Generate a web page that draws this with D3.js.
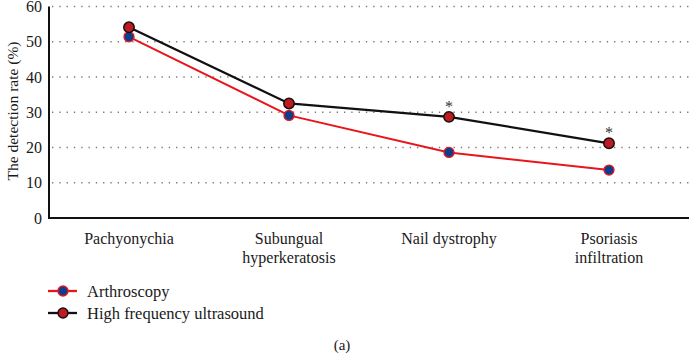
<!DOCTYPE html>
<html>
<head>
    <meta charset="utf-8">
    <title>Detection rate</title>
    <script src="https://d3js.org/d3.v7.min.js"></script>
</head>
<style>
    body { margin: 0; background: white; }
</style>
<body>
    <div id="chart"></div>
    <script>
        // data
        var categories = [["Pachyonychia"], ["Subungual", "hyperkeratosis"], ["Nail dystrophy"], ["Psoriasis", "infiltration"]];
        var arthroscopy = [51.4, 29.1, 18.6, 13.6];
        var ultrasound = [54.1, 32.5, 28.7, 21.2];
        var significant = [false, false, true, true];
        var yTicks = [0, 10, 20, 30, 40, 50, 60];
        var seriesNames = ["Arthroscopy", "High frequency ultrasound"];

        var width = 689, height = 354;

        var svg = d3.select("#chart").append("svg")
            .attr("width", width)
            .attr("height", height)
            .attr("font-family", "'Liberation Serif', 'Times New Roman', 'DejaVu Serif', serif")
            .attr("fill", "#1a1a1a");

        var x = d3.scalePoint()
            .domain(d3.range(categories.length))
            .range([49, 689])
            .padding(0.5);

        var y = d3.scaleLinear()
            .domain([0, 60])
            .range([218, 6.5]);

        // dotted grid lines
        svg.append("g").selectAll("line")
            .data(yTicks.filter(function(d) { return d > 0; }))
            .enter().append("line")
            .attr("x1", 52).attr("x2", width)
            .attr("y1", function(d) { return y(d); })
            .attr("y2", function(d) { return y(d); })
            .attr("stroke", "#777")
            .attr("stroke-width", 1.3)
            .attr("stroke-dasharray", "1.3,6");

        // y tick labels
        svg.append("g").selectAll("text")
            .data(yTicks)
            .enter().append("text")
            .attr("x", 42)
            .attr("y", function(d) { return y(d); })
            .attr("dy", "0.35em")
            .attr("text-anchor", "end")
            .attr("font-size", 16)
            .text(function(d) { return d; });

        // axes
        svg.append("line")
            .attr("x1", 49).attr("x2", 49)
            .attr("y1", y(60)).attr("y2", y(0) + 1)
            .attr("stroke", "#111").attr("stroke-width", 2);
        svg.append("line")
            .attr("x1", 48).attr("x2", width)
            .attr("y1", y(0)).attr("y2", y(0))
            .attr("stroke", "#111").attr("stroke-width", 2);

        // y axis title
        svg.append("text")
            .attr("transform", "translate(18,111) rotate(-90)")
            .attr("text-anchor", "middle")
            .attr("font-size", 15.5)
            .text("The detection rate (%)");

        // category labels
        var cat = svg.append("g").selectAll("text")
            .data(categories)
            .enter().append("text")
            .attr("text-anchor", "middle")
            .attr("font-size", 16)
            .attr("x", function(d, i) { return x(i); })
            .attr("y", 244);
        cat.selectAll("tspan")
            .data(function(d) { return d; })
            .enter().append("tspan")
            .attr("x", function() { return d3.select(this.parentNode).attr("x"); })
            .attr("dy", function(d, i) { return i === 0 ? 0 : 18.5; })
            .text(function(d) { return d; });

        var line = d3.line()
            .x(function(d, i) { return x(i); })
            .y(function(d) { return y(d); });

        // arthroscopy series
        svg.append("path")
            .datum(arthroscopy)
            .attr("d", line)
            .attr("fill", "none")
            .attr("stroke", "#e8161c")
            .attr("stroke-width", 2);
        svg.append("g").selectAll("circle")
            .data(arthroscopy)
            .enter().append("circle")
            .attr("cx", function(d, i) { return x(i); })
            .attr("cy", function(d) { return y(d); })
            .attr("r", 5)
            .attr("fill", "#0b3f8e")
            .attr("stroke", "#e8161c")
            .attr("stroke-width", 1.3);

        // ultrasound series
        svg.append("path")
            .datum(ultrasound)
            .attr("d", line)
            .attr("fill", "none")
            .attr("stroke", "#111")
            .attr("stroke-width", 2.3);
        svg.append("g").selectAll("circle")
            .data(ultrasound)
            .enter().append("circle")
            .attr("cx", function(d, i) { return x(i); })
            .attr("cy", function(d) { return y(d); })
            .attr("r", 5.2)
            .attr("fill", "#c0191f")
            .attr("stroke", "#111")
            .attr("stroke-width", 1.5);

        // significance stars
        svg.append("g").selectAll("text")
            .data(ultrasound.map(function(v, i) { return { v: v, i: i }; })
                .filter(function(d) { return significant[d.i]; }))
            .enter().append("text")
            .attr("x", function(d) { return x(d.i); })
            .attr("y", function(d) { return y(d.v) - 5; })
            .attr("text-anchor", "middle")
            .attr("font-size", 16)
            .attr("fill", "#333")
            .text("*");

        // legend
        var legend = svg.append("g").selectAll("g")
            .data(seriesNames)
            .enter().append("g")
            .attr("transform", function(d, i) { return "translate(0," + (291 + i * 22) + ")"; });
        legend.append("line")
            .attr("x1", 48).attr("x2", 77)
            .attr("stroke", function(d, i) { return i === 0 ? "#e8161c" : "#111"; })
            .attr("stroke-width", 2.3);
        legend.append("circle")
            .attr("cx", 63).attr("r", 5)
            .attr("fill", function(d, i) { return i === 0 ? "#0b3f8e" : "#c0191f"; })
            .attr("stroke", function(d, i) { return i === 0 ? "#e8161c" : "#111"; })
            .attr("stroke-width", 1.4);
        legend.append("text")
            .attr("x", 87)
            .attr("dy", "0.35em")
            .attr("font-size", 16.5)
            .text(function(d) { return d; });

        // panel letter
        svg.append("text")
            .attr("x", 342)
            .attr("y", 350)
            .attr("text-anchor", "middle")
            .attr("font-size", 15)
            .text("(a)");
    </script>
</body>
</html>
